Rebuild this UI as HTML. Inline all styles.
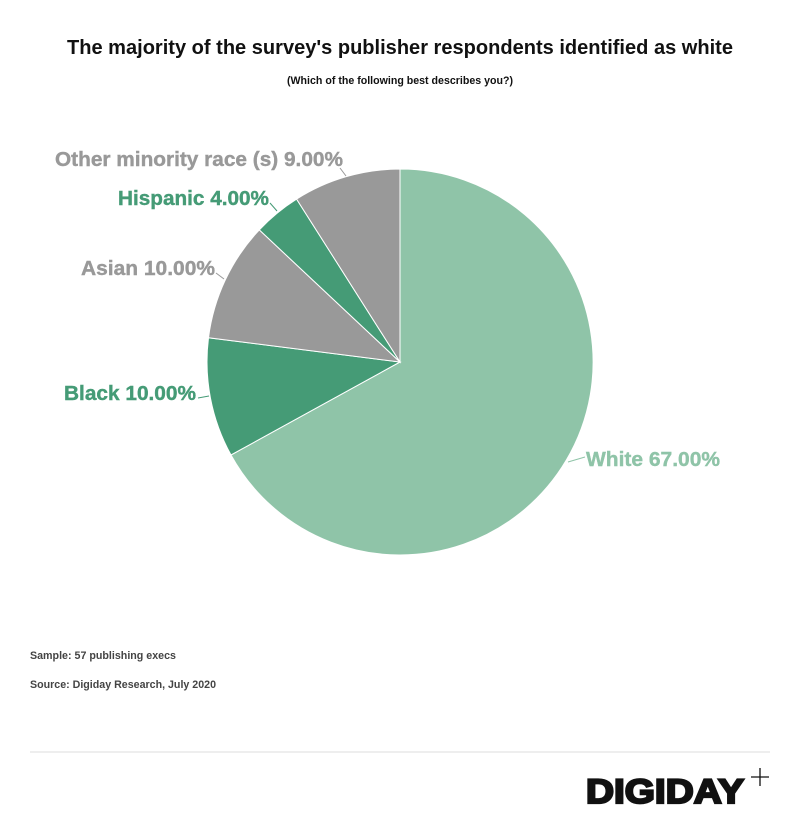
<!DOCTYPE html>
<html><head><meta charset="utf-8"><style>
body{margin:0;background:#fff;font-family:"Liberation Sans",sans-serif;}
.w{position:relative;width:800px;height:823px;overflow:hidden}
</style></head><body><div class="w">
<svg width="800" height="823" viewBox="0 0 800 823" xmlns="http://www.w3.org/2000/svg" font-family="Liberation Sans, sans-serif">
<text x="400" y="54" text-anchor="middle" font-size="20" font-weight="bold" fill="#111" textLength="666" lengthAdjust="spacingAndGlyphs">The majority of the survey's publisher respondents identified as white</text>
<text x="400" y="84" text-anchor="middle" font-size="11" font-weight="bold" fill="#111" textLength="226" lengthAdjust="spacingAndGlyphs">(Which of the following best describes you?)</text>
<g stroke="#fff" stroke-width="1">
<path d="M400,362 L400,169 A193,193 0 1 1 231,455 Z" fill="#8fc4a8"/>
<path d="M400,362 L231,455 A193,193 0 0 1 208.5,337.8 Z" fill="#459b76"/>
<path d="M400,362 L208.5,337.8 A193,193 0 0 1 259.3,229.9 Z" fill="#999999"/>
<path d="M400,362 L259.3,229.9 A193,193 0 0 1 296.6,199.1 Z" fill="#459b76"/>
<path d="M400,362 L296.6,199.1 A193,193 0 0 1 400,169 Z" fill="#999999"/>
</g>
<g fill="none" stroke-width="1">
<path d="M568,462 L585,457" stroke="#8fc4a8"/>
<path d="M198,398 L209,396" stroke="#459b76"/>
<path d="M216,273 L224,279" stroke="#999"/>
<path d="M270,203 L277,211" stroke="#459b76"/>
<path d="M340,168 L346,176" stroke="#999"/>
</g>
<g font-size="20" font-weight="bold" stroke-width="0.4">
<text x="586" y="466" fill="#8fc4a8" stroke="#8fc4a8" textLength="134" lengthAdjust="spacingAndGlyphs">White 67.00%</text>
<text x="64" y="400" fill="#459b76" stroke="#459b76" textLength="132" lengthAdjust="spacingAndGlyphs">Black 10.00%</text>
<text x="81" y="275" fill="#999" stroke="#999" textLength="134" lengthAdjust="spacingAndGlyphs">Asian 10.00%</text>
<text x="118" y="205" fill="#459b76" stroke="#459b76" textLength="151" lengthAdjust="spacingAndGlyphs">Hispanic 4.00%</text>
<text x="55" y="166" fill="#999" stroke="#999" textLength="288" lengthAdjust="spacingAndGlyphs">Other minority race (s) 9.00%</text>
</g>
<text x="30" y="659" font-size="11" font-weight="bold" fill="#444" textLength="146" lengthAdjust="spacingAndGlyphs">Sample: 57 publishing execs</text>
<text x="30" y="688" font-size="11" font-weight="bold" fill="#444" textLength="186" lengthAdjust="spacingAndGlyphs">Source: Digiday Research, July 2020</text>
<line x1="30" y1="752" x2="770" y2="752" stroke="#ddd" stroke-width="1"/>
<text x="586" y="803" font-size="34" font-weight="bold" fill="#111" stroke="#111" stroke-width="2.2" textLength="158" lengthAdjust="spacingAndGlyphs">DIGIDAY</text>
<path d="M760,768 V786 M751,777 H769" stroke="#111" stroke-width="1.3"/>
</svg>
</div></body></html>
